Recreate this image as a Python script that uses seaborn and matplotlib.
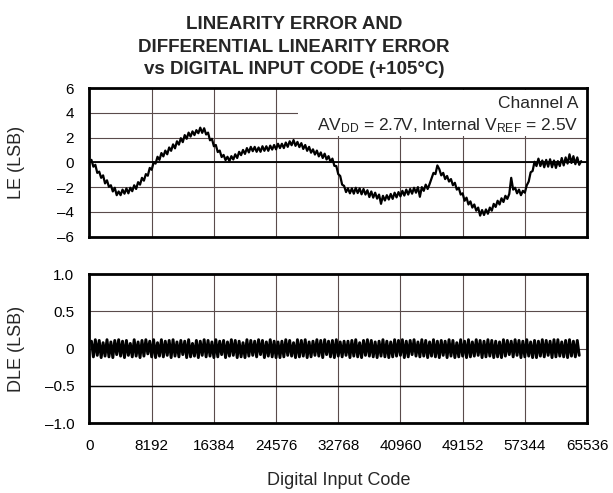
import numpy as np
import pandas as pd
import matplotlib
matplotlib.use("Agg")
import matplotlib.pyplot as plt
import seaborn as sns
from matplotlib.patches import Rectangle

# ---- data -------------------------------------------------------------
# Linearity error, one reading every 256 codes starting at code 256
le_codes = np.arange(256, 64769, 256)
le_values = [
    0.20, -0.35, -0.20, -0.85, -0.75, -1.25, -1.05, -1.70, -1.45, -1.98,
    -1.85, -2.35, -2.05, -2.65, -2.35, -2.65, -2.20, -2.53, -2.10, -2.50,
    -2.05, -2.33, -1.85, -2.15, -1.60, -1.80, -1.25, -1.48, -0.95, -1.08,
    -0.45, -0.60, 0.00, -0.10, 0.45, 0.20, 0.75, 0.48, 0.95, 0.65,
    1.20, 0.93, 1.45, 1.13, 1.70, 1.43, 1.95, 1.63, 2.20, 1.90,
    2.40, 2.08, 2.50, 2.20, 2.60, 2.35, 2.80, 2.38, 2.75, 2.25,
    2.40, 1.78, 1.90, 1.30, 1.40, 0.83, 0.95, 0.43, 0.60, 0.18,
    0.45, 0.10, 0.50, 0.23, 0.65, 0.35, 0.85, 0.58, 1.00, 0.68,
    1.15, 0.80, 1.25, 0.90, 1.25, 0.85, 1.20, 0.85, 1.30, 0.93,
    1.30, 0.93, 1.35, 1.03, 1.40, 1.05, 1.50, 1.15, 1.50, 1.15,
    1.60, 1.25, 1.70, 1.38, 1.80, 1.33, 1.65, 1.23, 1.55, 1.08,
    1.40, 0.93, 1.25, 0.78, 1.05, 0.63, 0.95, 0.48, 0.80, 0.35,
    0.70, 0.23, 0.50, 0.05, 0.30, -0.28, -0.30, -0.95, -1.10, -1.80,
    -1.90, -2.40, -2.10, -2.50, -2.10, -2.53, -2.05, -2.48, -2.10, -2.58,
    -2.15, -2.60, -2.25, -2.80, -2.35, -2.85, -2.45, -2.93, -2.60, -3.35,
    -2.70, -3.08, -2.65, -3.00, -2.55, -2.95, -2.45, -2.83, -2.40, -2.75,
    -2.30, -2.68, -2.20, -2.60, -2.15, -2.53, -2.05, -2.45, -2.00, -2.78,
    -2.00, -2.30, -1.80, -2.15, -1.75, -1.30, -0.85, -0.95, -0.25, -0.55,
    -1.05, -0.85, -1.35, -1.10, -1.55, -1.35, -1.85, -1.65, -2.20, -2.05,
    -2.60, -2.50, -3.10, -2.85, -3.40, -3.15, -3.65, -3.40, -3.90, -3.65,
    -4.30, -3.85, -4.25, -3.80, -4.15, -3.65, -3.90, -3.35, -3.60, -3.10,
    -3.40, -2.90, -3.20, -2.70, -2.95, -2.55, -1.25, -2.20, -2.05, -2.50,
    -2.20, -2.65, -2.30, -2.45, -1.85, -1.55, -0.80, -0.70, 0.05, -0.30,
    0.30, -0.30, 0.15, -0.40, 0.20, -0.35, 0.25, -0.40, 0.15, -0.45,
    0.10, -0.30, 0.35, -0.25, 0.40, -0.10, 0.65, -0.05, 0.50, -0.15,
    0.40, -0.20, 0.10,
]

# Differential linearity error, one reading every 256 codes
dle_codes = np.arange(256, 64513, 256)
dle_values = [
    0.10, -0.11, 0.12, -0.09, 0.11, -0.12, 0.08, -0.10, 0.12, -0.11, 0.09, -0.12,
    0.11, -0.08, 0.12, -0.10, 0.10, -0.12, 0.11, -0.09, 0.07, -0.11, 0.12, -0.10,
    0.09, -0.12, 0.11, -0.10, 0.12, -0.07, 0.10, -0.11, 0.12, -0.12, 0.08, -0.10,
    0.12, -0.11, 0.10, -0.09, 0.11, -0.12, 0.12, -0.10, 0.09, -0.11, 0.11, -0.08,
    0.10, -0.12, 0.12, -0.11, 0.07, -0.10, 0.11, -0.12, 0.10, -0.09, 0.12, -0.11,
    0.11, -0.10, 0.09, -0.12, 0.12, -0.11, 0.10, -0.08, 0.11, -0.12, 0.09, -0.10,
    0.12, -0.09, 0.11, -0.12, 0.10, -0.11, 0.08, -0.12, 0.12, -0.10, 0.11, -0.09,
    0.10, -0.11, 0.12, -0.08, 0.11, -0.12, 0.09, -0.10, 0.12, -0.11, 0.10, -0.12,
    0.09, -0.12, 0.10, -0.11, 0.12, -0.09, 0.11, -0.10, 0.08, -0.12, 0.12, -0.11,
    0.11, -0.10, 0.12, -0.12, 0.09, -0.11, 0.10, -0.09, 0.12, -0.10, 0.11, -0.12,
    0.12, -0.08, 0.10, -0.11, 0.11, -0.12, 0.12, -0.10, 0.09, -0.11, 0.10, -0.09,
    0.10, -0.12, 0.11, -0.10, 0.12, -0.11, 0.08, -0.12, 0.11, -0.09, 0.12, -0.10,
    0.11, -0.11, 0.09, -0.12, 0.10, -0.10, 0.12, -0.11, 0.10, -0.12, 0.09, -0.11,
    0.12, -0.10, 0.11, -0.09, 0.12, -0.12, 0.10, -0.11, 0.11, -0.08, 0.12, -0.10,
    0.09, -0.11, 0.12, -0.10, 0.11, -0.12, 0.09, -0.10, 0.12, -0.11, 0.10, -0.12,
    0.11, -0.09, 0.10, -0.12, 0.12, -0.10, 0.11, -0.12, 0.08, -0.11, 0.12, -0.10,
    0.10, -0.12, 0.12, -0.11, 0.09, -0.10, 0.12, -0.09, 0.11, -0.12, 0.10, -0.11,
    0.12, -0.10, 0.11, -0.12, 0.10, -0.11, 0.09, -0.12, 0.12, -0.10, 0.11, -0.08,
    0.10, -0.11, 0.12, -0.09, 0.11, -0.12, 0.10, -0.11, 0.12, -0.10, 0.09, -0.12,
    0.11, -0.12, 0.10, -0.10, 0.12, -0.11, 0.11, -0.09, 0.10, -0.12, 0.12, -0.11,
    0.12, -0.10, 0.09, -0.11, 0.11, -0.12, 0.12, -0.10, 0.10, -0.11, 0.11, -0.09,
]

x_ticks = [0, 8192, 16384, 24576, 32768, 40960, 49152, 57344, 65536]
x_tick_labels = ["0", "8192", "16384", "24576", "32768", "40960", "49152", "57344", "65536"]
le_ticks = [-6, -4, -2, 0, 2, 4, 6]
le_tick_labels = ["\u20136", "\u20134", "\u20132", "0", "2", "4", "6"]
dle_ticks = [-1.0, -0.5, 0.0, 0.5, 1.0]
dle_tick_labels = ["\u20131.0", "\u20130.5", "0", "0.5", "1.0"]

le_df = pd.DataFrame({"code": le_codes, "le": le_values})
dle_df = pd.DataFrame({"code": dle_codes, "dle": dle_values})

# ---- style ------------------------------------------------------------
sns.set_style("white")
FONT = "Liberation Sans"
plt.rcParams["font.family"] = [FONT, "DejaVu Sans"]
plt.rcParams["mathtext.fontset"] = "custom"
plt.rcParams["mathtext.rm"] = "Liberation Sans"
plt.rcParams["mathtext.it"] = "Liberation Sans:italic"
plt.rcParams["mathtext.bf"] = "Liberation Sans:bold"

GRID = "#5a4b4b"
TICK_FS = 11
LABEL_FS = 13

fig = plt.figure(figsize=(6.13, 4.93), dpi=100)
ax1 = fig.add_axes([0.146, 0.5199, 0.8116, 0.3016])
ax2 = fig.add_axes([0.146, 0.1414, 0.8116, 0.3028])

# ---- traces -----------------------------------------------------------
sns.lineplot(data=le_df, x="code", y="le", ax=ax1, color="black",
             linewidth=1.6, zorder=2, estimator=None, sort=True)
sns.lineplot(data=dle_df, x="code", y="dle", ax=ax2, color="black",
             linewidth=2.1, zorder=2, estimator=None, sort=True)

for ax in (ax1, ax2):
    ax.set_xlim(0, 65536)
    ax.grid(True, color=GRID, linewidth=0.8)
    ax.tick_params(length=0, pad=11, colors="black")
    for sp in ax.spines.values():
        sp.set_visible(True)
        sp.set_color("black")
        sp.set_linewidth(2.0)
        sp.set_zorder(3)

# ---- LE panel ---------------------------------------------------------
ax1.set_ylim(-6, 6)
ax1.set_xticks(x_ticks, labels=[""] * len(x_ticks))
ax1.set_yticks(le_ticks, labels=le_tick_labels)
ax1.axhline(0, color="black", linewidth=1.3, zorder=1)

# blank area behind the operating-condition notes
ax1.add_patch(Rectangle((27460, 2.12), 65536 - 27460, 3.75,
                        facecolor="white", edgecolor="none", zorder=1.5))

ax1.set_xlabel("")
ax1.set_ylabel("LE (LSB)", fontsize=LABEL_FS, fontfamily=FONT)
ax1.yaxis.set_label_coords(-0.129, 0.5)

ax1.text(0.982, 0.8635, "Channel A", transform=ax1.transAxes,
         ha="right", va="baseline", fontsize=12.5, zorder=4)
ax1.text(0.982, 0.7175,
         r"AV$_{\mathrm{DD}}$ = 2.7V, Internal V$_{\mathrm{REF}}$ = 2.5V",
         transform=ax1.transAxes, ha="right", va="baseline",
         fontsize=12.5, zorder=4)

# ---- DLE panel --------------------------------------------------------
ax2.set_ylim(-1.0, 1.0)
ax2.set_xticks(x_ticks, labels=x_tick_labels)
ax2.set_yticks(dle_ticks, labels=dle_tick_labels)
ax2.axhline(-0.5, color="black", linewidth=1.0, zorder=1)

ax2.set_ylabel("DLE (LSB)", fontsize=LABEL_FS, fontfamily=FONT)
ax2.yaxis.set_label_coords(-0.129, 0.5)
ax2.set_xlabel("Digital Input Code", fontsize=LABEL_FS, fontfamily=FONT)
ax2.xaxis.set_label_coords(0.5, -0.325)

for ax in (ax1, ax2):
    for lbl in ax.get_xticklabels() + ax.get_yticklabels():
        lbl.set_fontfamily(FONT)
        lbl.set_fontsize(TICK_FS)

# ---- title ------------------------------------------------------------
title_lines = [
    "LINEARITY ERROR AND",
    "DIFFERENTIAL LINEARITY ERROR",
    "vs DIGITAL INPUT CODE (+105\u00b0C)",
]
for line, yb in zip(title_lines, [0.9406, 0.8939, 0.8499]):
    fig.text(0.48, yb, line, ha="center", va="baseline",
             fontsize=13.5, fontweight="bold")

fig.savefig("out.png", dpi=100)
